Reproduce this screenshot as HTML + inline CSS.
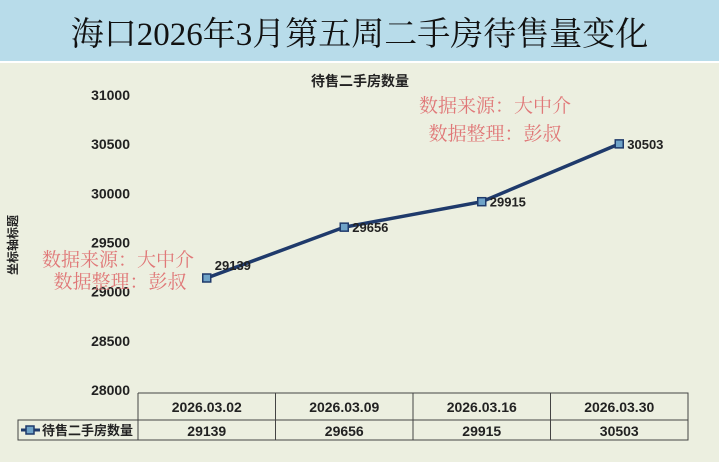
<!DOCTYPE html>
<html><head><meta charset="utf-8"><style>
body{margin:0;width:719px;height:462px;overflow:hidden;background:#ecefe0;font-family:"Liberation Sans","Noto Sans CJK SC",sans-serif}
</style></head><body>
<div style="position:absolute;left:0;top:0;width:719px;height:61px;background:#b8dcea;border-bottom:2px solid #fff;"></div>
<div style="position:absolute;left:0;top:8px;width:719px;text-align:center;font-family:'Liberation Serif','Noto Serif CJK SC',serif;font-size:33px;color:#111;">海口2026年3月第五周二手房待售量变化</div>
<svg id="c" width="719" height="462" style="position:absolute;left:0;top:0"></svg>
<script>
const categories=["2026.03.02","2026.03.09","2026.03.16","2026.03.30"];
const values=[29139,29656,29915,30503];
const yTicks=[28000,28500,29000,29500,30000,30500,31000];
const seriesName="待售二手房数量";
const ns="http://www.w3.org/2000/svg";
const svg=document.getElementById('c');
const X0=138,X1=688,Y0=390,Y1=95,YMIN=28000,YMAX=31000;
const colW=(X1-X0)/categories.length;
const xs=i=>X0+colW*(i+0.5);
const ys=v=>Y0-(v-YMIN)/(YMAX-YMIN)*(Y0-Y1);
function el(t,a,txt){const e=document.createElementNS(ns,t);for(const k in a)e.setAttribute(k,a[k]);if(txt!==undefined)e.textContent=txt;svg.appendChild(e);return e;}
let e=el('text',{x:360,y:86,'text-anchor':'middle','font-size':14,'font-weight':'bold',fill:'#222'},seriesName);


yTicks.forEach(v=>{const t=el('text',{x:130,y:ys(v)+5,'text-anchor':'end','font-size':14,'font-weight':'bold',fill:'#222'},v);

});
e=el('text',{x:0,y:0,transform:'translate(17,245) rotate(-90)','text-anchor':'middle','font-size':12,'font-weight':'bold',fill:'#222'},'坐标轴标题');


// watermarks
[[118,266,'数据来源：大中介'],[120,288,'数据整理：彭叔'],[495,112,'数据来源：大中介'],[495,140,'数据整理：彭叔']].forEach(w=>{const t=el('text',{x:w[0],y:w[1],'text-anchor':'middle','font-size':19,fill:'#e07878','font-family':"'Liberation Serif','Noto Serif CJK SC',serif"},w[2]);

});
// line
const pts=values.map((v,i)=>xs(i)+','+ys(v)).join(' ');
e=el('polyline',{points:pts,fill:'none',stroke:'#1f3a6b','stroke-width':3.5});


values.forEach((v,i)=>{const m=el('rect',{x:xs(i)-4,y:ys(v)-4,width:8,height:8,fill:'#6fa3c8',stroke:'#1f3a6b','stroke-width':1.5});


const t=el('text',{x:xs(i)+8,y:ys(v)-8+(i==0?0:13),'font-size':13,'font-weight':'bold',fill:'#222'},v);

});
// table
const T0=393,T1=420,T2=440;
e=el('path',{d:`M${X0},${T0}H${X1}V${T2}H18V${T1}H${X1}M${X0},${T0}V${T2}M18,${T1}V${T2}`,fill:'none',stroke:'#444','stroke-width':1});


categories.forEach((c,i)=>{if(i>0){const l=el('line',{x1:X0+colW*i,x2:X0+colW*i,y1:T0,y2:T2,stroke:'#444'});}
const t=el('text',{x:xs(i),y:T0+19,'text-anchor':'middle','font-size':14,'font-weight':'bold',fill:'#222'},c);


const t2=el('text',{x:xs(i),y:T1+16,'text-anchor':'middle','font-size':14,'font-weight':'bold',fill:'#222'},values[i]);

});
e=el('line',{x1:21,x2:40,y1:T1+10,y2:T1+10,stroke:'#1f3a6b','stroke-width':3});


e=el('rect',{x:26,y:T1+6,width:8,height:8,fill:'#6fa3c8',stroke:'#1f3a6b','stroke-width':1.5});


e=el('text',{x:42,y:T1+15,'font-size':13,'font-weight':'bold',fill:'#222'},seriesName);


</script>
</body></html>
